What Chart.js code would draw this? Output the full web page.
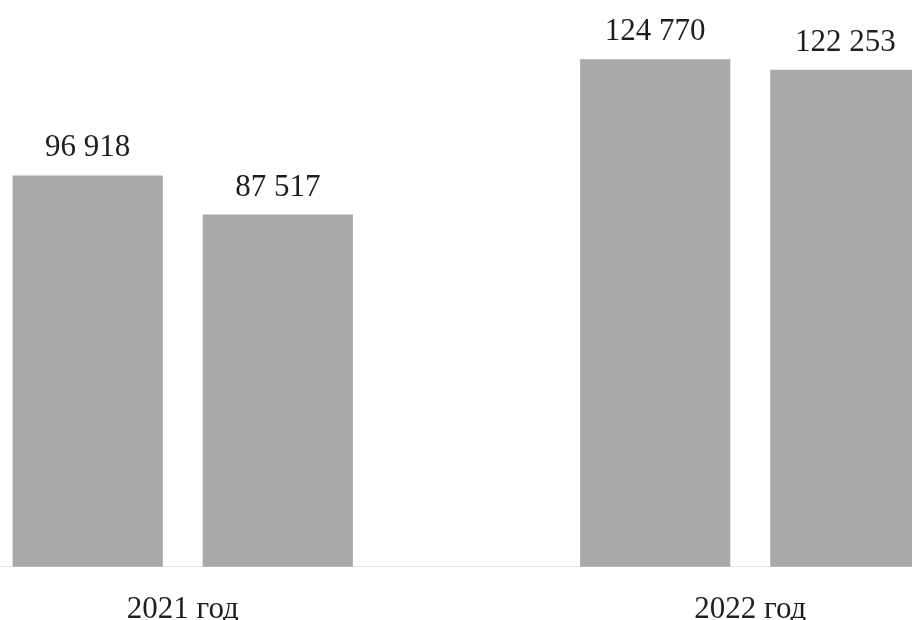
<!DOCTYPE html>
<html>
<head>
<meta charset="utf-8">
<script src="https://cdn.jsdelivr.net/npm/chart.js@4"></script>
<style>
    html, body { margin: 0; padding: 0; background: #fff; overflow: hidden; }
    #wrap { position: absolute; left: -101px; top: 0; width: 1135px; height: 644px; }
</style>
</head>
<body>
<div id="wrap"><canvas id="yearChart"></canvas></div>
<script>
// values
const years = ['2021 год', '2022 год'];
const firstValues = [96918, 124770];
const secondValues = [87517, 122253];

const fmt = v => String(v).replace(/\B(?=(\d{3})+(?!\d))/g, ' ');

// simple value labels above the bars
const valueLabels = {
    id: 'valueLabels',
    afterDatasetsDraw(chart) {
        const c = chart.ctx;
        c.save();
        c.font = '31px "Liberation Serif", "Times New Roman", serif';
        c.fillStyle = '#1e1e1e';
        c.textAlign = 'center';
        c.textBaseline = 'alphabetic';
        chart.data.datasets.forEach((ds, i) => {
            chart.getDatasetMeta(i).data.forEach((bar, j) => {
                c.fillText(fmt(ds.data[j]), bar.x, bar.y - 19);
            });
        });
        c.restore();
    }
};

const ctx = document.getElementById('yearChart').getContext('2d');
new Chart(ctx, {
    type: 'bar',
    data: {
        labels: years,
        datasets: [{
            data: firstValues,
            backgroundColor: '#a9a9a9',
            borderWidth: 0
        }, {
            data: secondValues,
            backgroundColor: '#a9a9a9',
            borderWidth: 0
        }]
    },
    options: {
        responsive: true,
        maintainAspectRatio: false,
        animation: false,
        categoryPercentage: 0.67,
        barPercentage: 0.79,
        layout: { padding: 0 },
        plugins: {
            legend: { display: false },
            tooltip: { enabled: false }
        },
        scales: {
            y: {
                display: false,
                min: 3000,
                max: 139000
            },
            x: {
                grid: { display: false },
                border: { display: true, color: '#e6e6e6', width: 1 },
                ticks: {
                    color: '#1e1e1e',
                    padding: 16,
                    font: { family: '"Liberation Serif", "Times New Roman", serif', size: 31 }
                }
            }
        }
    },
    plugins: [valueLabels]
});
</script>
</body>
</html>
